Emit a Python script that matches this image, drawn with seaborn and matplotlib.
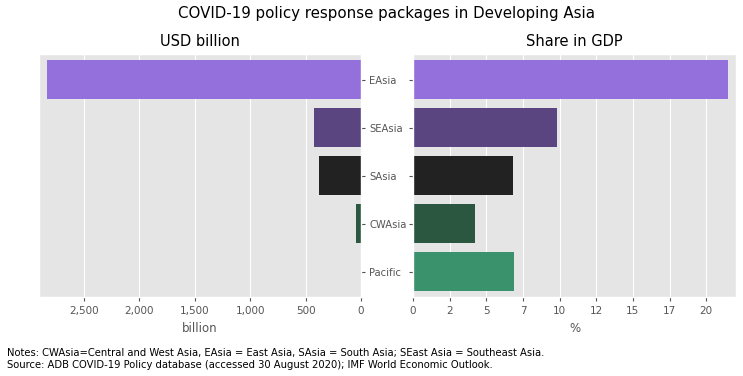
import matplotlib
matplotlib.use("Agg")
import matplotlib.pyplot as plt
import seaborn as sns
import pandas as pd
from matplotlib.ticker import FuncFormatter, MultipleLocator

regions = ["EAsia", "SEAsia", "SAsia", "CWAsia", "Pacific"]
usd_billion = [2835, 424, 378, 45, 2]
gdp_share = [21.5, 9.85, 6.85, 4.25, 6.9]
bar_colors = ["#9370DB", "#5A4580", "#222222", "#2B5741", "#3A926D"]

df = pd.DataFrame({"region": regions, "usd": usd_billion, "share": gdp_share})

plt.style.use("ggplot")
plt.rcParams["font.family"] = ["DejaVu Sans"]

fig = plt.figure(figsize=(7.43, 3.76), dpi=100)
ax1 = fig.add_axes([0.0525, 0.21, 0.4335, 0.646])
ax2 = fig.add_axes([0.556, 0.21, 0.4346, 0.646])

sns.barplot(data=df, y="region", x="usd", hue="region", palette=bar_colors,
            legend=False, width=0.8, saturation=1, ax=ax1)
sns.barplot(data=df, y="region", x="share", hue="region", palette=bar_colors,
            legend=False, width=0.8, saturation=1, ax=ax2)

# left panel: reversed axis, labels on the right side
ax1.set_xlim(max(usd_billion) * 1.025, 0)
ax1.yaxis.tick_right()
ax1.xaxis.set_major_locator(MultipleLocator(500))
ax1.xaxis.set_major_formatter(FuncFormatter(lambda v, p: f"{v:,.0f}"))
ax1.set_xlabel("billion", fontsize=8.5, color="#555555")
ax1.set_ylabel("")
ax1.set_title("USD billion", fontsize=10.5, color="black", pad=6)

ax2.set_xlim(0, max(gdp_share) * 1.025)
ax2.xaxis.set_major_locator(MultipleLocator(2.5))
ax2.xaxis.set_major_formatter(FuncFormatter(lambda v, p: f"{int(v)}"))
ax2.set_yticklabels([])
ax2.set_xlabel("%", fontsize=8.5, color="#555555")
ax2.set_ylabel("")
ax2.set_title("Share in GDP", fontsize=10.5, color="black", pad=6)

for ax in (ax1, ax2):
    ax.set_ylim(4.53, -0.53)
    ax.tick_params(labelsize=7.5, colors="#555555", length=3)
    ax.tick_params(axis="y", pad=3, labelsize=7.2)

fig.suptitle("COVID-19 policy response packages in Developing Asia",
             fontsize=10.85, x=0.52, y=0.985)
fig.text(0.01, 0.022,
         "Notes: CWAsia=Central and West Asia, EAsia = East Asia, SAsia = South Asia; SEast Asia = Southeast Asia.\n"
         "Source: ADB COVID-19 Policy database (accessed 30 August 2020); IMF World Economic Outlook.",
         fontsize=7.22, color="black", linespacing=1.25)

fig.savefig("out.png", dpi=100)
